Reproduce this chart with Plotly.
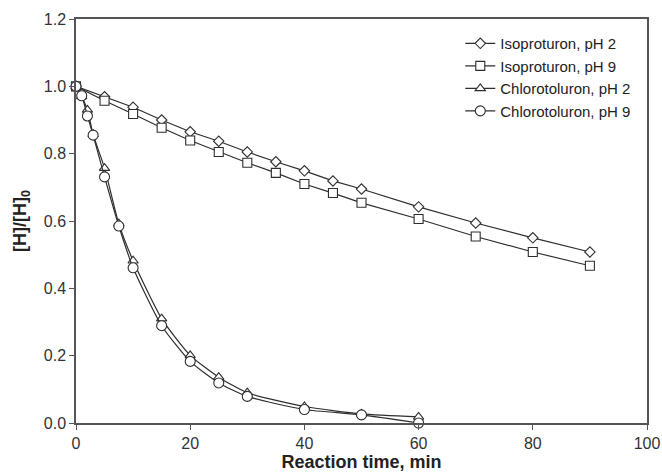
import plotly.graph_objects as go

# Reaction time (min) for each herbicide
time_iso = [0, 5, 10, 15, 20, 25, 30, 35, 40, 45, 50, 60, 70, 80, 90]
time_chl = [0, 1, 2, 3, 5, 7.5, 10, 15, 20, 25, 30, 40, 50, 60]

# Normalised concentration [H]/[H]0
iso_ph2 = [1.0, 0.969, 0.938, 0.900, 0.865, 0.837, 0.805, 0.776, 0.749, 0.719, 0.695, 0.642, 0.594, 0.550, 0.508]
iso_ph9 = [1.0, 0.957, 0.918, 0.877, 0.839, 0.805, 0.773, 0.743, 0.710, 0.683, 0.654, 0.606, 0.554, 0.508, 0.467]
chl_ph2 = [1.0, 0.970, 0.930, 0.857, 0.757, 0.592, 0.482, 0.310, 0.201, 0.136, 0.090, 0.049, 0.027, 0.018]
chl_ph9 = [1.0, 0.972, 0.912, 0.855, 0.731, 0.585, 0.461, 0.289, 0.183, 0.119, 0.079, 0.040, 0.024, 0.0]

names = ["Isoproturon, pH 2", "Isoproturon, pH 9", "Chlorotoluron, pH 2", "Chlorotoluron, pH 9"]

INK = "#2e2e2e"
FONT = "Liberation Sans, Arial, sans-serif"

series = [
    (time_iso, iso_ph2, "diamond", 8, "linear"),
    (time_iso, iso_ph9, "square", 9, "linear"),
    (time_chl, chl_ph2, "triangle-up", 9, "spline"),
    (time_chl, chl_ph9, "circle", 10, "spline"),
]

fig = go.Figure()
for name, (x, y, sym, size, shape) in zip(names, series):
    fig.add_trace(go.Scatter(
        x=x, y=y, name=name, mode="lines+markers",
        line=dict(color=INK, width=1.2, shape=shape, smoothing=0.6),
        marker=dict(symbol=sym, size=size, color="white",
                    line=dict(color=INK, width=1.1)),
        cliponaxis=False,
    ))

axis_common = dict(
    showline=True, linecolor="#555555", linewidth=1.5, mirror=True,
    ticks="outside", ticklen=5, tickwidth=1.2, tickcolor="#555555",
    showgrid=False, zeroline=False, automargin=False,
    tickfont=dict(family=FONT, size=16, color="#333333"),
)

fig.update_layout(
    width=662, height=473,
    margin=dict(l=76, r=15, t=19, b=50),
    paper_bgcolor="white", plot_bgcolor="white",
    font=dict(family=FONT, color="#222222"),
    xaxis=dict(range=[0, 100], tickvals=[0, 20, 40, 60, 80, 100],
               title=dict(text="<b>Reaction time, min</b>", standoff=3,
                          font=dict(family=FONT, size=18, color="#222222")),
               **axis_common),
    yaxis=dict(range=[0, 1.2], tickvals=[0, 0.2, 0.4, 0.6, 0.8, 1.0, 1.2],
               tickformat=".1f",
               title=dict(text="<b>[H]/[H]<sub>0</sub></b>", standoff=12,
                          font=dict(family=FONT, size=18, color="#222222")),
               **axis_common),
    legend=dict(x=0.673, y=0.98, xanchor="left", yanchor="top",
                bgcolor="rgba(0,0,0,0)", borderwidth=0,
                font=dict(family=FONT, size=15, color="#222222"),
                itemwidth=30, tracegroupgap=0),
    showlegend=True,
)

fig.write_html("out.html")
